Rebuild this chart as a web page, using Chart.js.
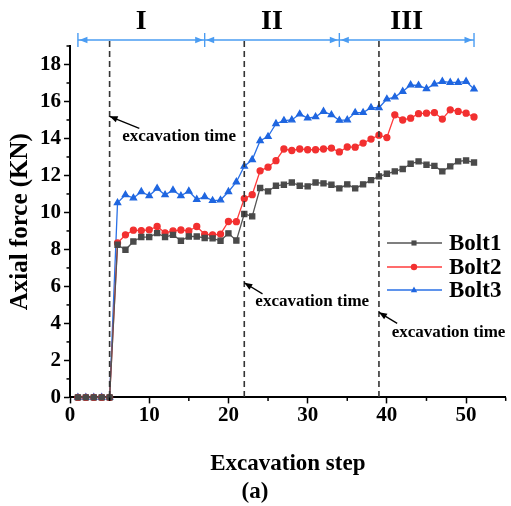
<!DOCTYPE html>
<html><head><meta charset="utf-8">
<script src="https://cdn.jsdelivr.net/npm/chart.js@4/dist/chart.umd.min.js"></script>
<style>html,body{margin:0;padding:0;background:#fff}canvas{display:block}</style>
</head><body>
<canvas id="c" width="511" height="506"></canvas>
<script>
// ---- data ----
const steps = [1,2,3,4,5,6,7,8,9,10,11,12,13,14,15,16,17,18,19,20,21,22,23,24,25,26,27,28,29,30,31,32,33,34,35,36,37,38,39,40,41,42,43,44,45,46,47,48,49,50,51];
const bolt1 = [0,0,0,0,0,8.25,7.98,8.43,8.67,8.67,8.88,8.67,8.79,8.47,8.70,8.70,8.62,8.60,8.47,8.87,8.48,9.92,9.79,11.32,11.14,11.44,11.50,11.62,11.44,11.41,11.62,11.57,11.50,11.30,11.52,11.30,11.52,11.75,11.95,12.09,12.22,12.35,12.63,12.76,12.58,12.52,12.22,12.49,12.76,12.81,12.70];
const bolt2 = [0,0,0,0,0,8.35,8.79,9.04,9.02,9.06,9.24,8.90,9.00,9.05,9.00,9.24,8.82,8.79,8.83,9.51,9.50,10.75,10.96,12.25,12.45,12.80,13.43,13.35,13.43,13.39,13.39,13.43,13.48,13.27,13.54,13.53,13.75,13.97,14.18,14.05,15.28,15.00,15.10,15.34,15.37,15.40,15.05,15.55,15.46,15.37,15.16];
const bolt3 = [0,0,0,0,0,10.52,10.95,10.78,11.12,10.90,11.30,10.95,11.20,10.90,11.15,10.70,10.85,10.64,10.67,11.12,11.65,12.50,12.85,13.88,14.10,14.80,14.97,15.00,15.32,15.10,15.17,15.46,15.28,14.98,15.00,15.40,15.40,15.67,15.66,16.13,16.24,16.54,16.89,16.87,16.69,16.94,17.08,17.03,17.03,17.08,16.67];
const seriesNames = ['Bolt1','Bolt2','Bolt3'];
const xTickValues = [0,10,20,30,40,50];
const yTickValues = [0,2,4,6,8,10,12,14,16,18];
const stageBounds = [1,17,34,51];
const stageLabels = ['I','II','III'];
const excavationSteps = [5,22,39];
const excavationText = 'excavation time';

const SERIF = "'Liberation Serif','Times New Roman',serif";
const toXY = arr => steps.map((s,i)=>({x:s,y:arr[i]}));

const annot = {
  id:'annot',
  afterDatasetsDraw(chart){
    const ctx = chart.ctx, xs = chart.scales.x, ys = chart.scales.y;
    const ca = chart.chartArea;
    ctx.save();
    // minor ticks
    ctx.strokeStyle='#000'; ctx.lineWidth=1.5;
    for(let v=5; v<=55; v+=10){const px=xs.getPixelForValue(v); ctx.beginPath(); ctx.moveTo(px,ca.bottom); ctx.lineTo(px,ca.bottom+3.5); ctx.stroke();}
    for(let v=1; v<=19; v+=2){const py=ys.getPixelForValue(v); ctx.beginPath(); ctx.moveTo(ca.left,py); ctx.lineTo(ca.left-3.5,py); ctx.stroke();}
    // dashed excavation lines
    ctx.strokeStyle='#333'; ctx.lineWidth=1.6; ctx.setLineDash([6,4]);
    excavationSteps.forEach(s=>{const px=xs.getPixelForValue(s); ctx.beginPath(); ctx.moveTo(px,41); ctx.lineTo(px,ca.bottom); ctx.stroke();});
    ctx.setLineDash([]);
    // stage arrows
    const ay = 40, blue='#4a9cf2';
    ctx.strokeStyle=blue; ctx.fillStyle=blue; ctx.lineWidth=1.4;
    const bx = stageBounds.map(s=>xs.getPixelForValue(s));
    ctx.beginPath(); ctx.moveTo(bx[0],ay); ctx.lineTo(bx[bx.length-1],ay); ctx.stroke();
    bx.forEach(px=>{ctx.beginPath(); ctx.moveTo(px,ay-7); ctx.lineTo(px,ay+7); ctx.stroke();});
    const head=(tipX,dir)=>{ctx.beginPath(); ctx.moveTo(tipX,ay); ctx.lineTo(tipX+dir*8,ay-3.2); ctx.lineTo(tipX+dir*8,ay+3.2); ctx.closePath(); ctx.fill();};
    for(let i=0;i<bx.length-1;i++){head(bx[i]+1.5,1); head(bx[i+1]-1.5,-1);}
    // roman numerals
    ctx.fillStyle='#000'; ctx.font='bold 28px '+SERIF; ctx.textAlign='center'; ctx.textBaseline='middle';
    stageLabels.forEach((t,i)=>{const px=(bx[i]+bx[i+1])/2; ctx.fillText(t,px,22);});
    // excavation time labels with arrows: [tipStep,tipVal,tailStep,tailVal,textStep,textVal]
    const labs=[[5,15.2,8.75,14.55,6.6,14.1],[22,6.2,24.3,5.6,23.4,5.2],[39,4.6,41.3,4.0,40.6,3.5]];
    ctx.font='bold 17px '+SERIF; ctx.textAlign='left';
    labs.forEach(l=>{
      const tx=xs.getPixelForValue(l[0]), ty=ys.getPixelForValue(l[1]);
      const sx=xs.getPixelForValue(l[2]), sy=ys.getPixelForValue(l[3]);
      ctx.strokeStyle='#000'; ctx.fillStyle='#000'; ctx.lineWidth=1.3;
      ctx.beginPath(); ctx.moveTo(sx,sy); ctx.lineTo(tx,ty); ctx.stroke();
      const ang=Math.atan2(sy-ty,sx-tx), L=8, W=3.2;
      ctx.beginPath(); ctx.moveTo(tx,ty);
      ctx.lineTo(tx+L*Math.cos(ang)-W*Math.sin(ang), ty+L*Math.sin(ang)+W*Math.cos(ang));
      ctx.lineTo(tx+L*Math.cos(ang)+W*Math.sin(ang), ty+L*Math.sin(ang)-W*Math.cos(ang));
      ctx.closePath(); ctx.fill();
      ctx.fillText(excavationText, xs.getPixelForValue(l[4]), ys.getPixelForValue(l[5]));
    });
    // legend
    const rows=[243,267,290];
    chart.data.datasets.forEach((ds,i)=>{
      const y=rows[i];
      ctx.strokeStyle=ds.borderColor; ctx.lineWidth=1.5;
      ctx.beginPath(); ctx.moveTo(387,y); ctx.lineTo(442,y); ctx.stroke();
      ctx.fillStyle=ds.pointBackgroundColor;
      const r=3.2, cx=414;
      ctx.beginPath();
      if(ds.pointStyle==='rect'){ctx.rect(cx-r*0.8,y-r*0.8,r*1.6,r*1.6);}
      else if(ds.pointStyle==='triangle'){ctx.moveTo(cx,y-r*1.1);ctx.lineTo(cx+r,y+r*0.7);ctx.lineTo(cx-r,y+r*0.7);ctx.closePath();}
      else {ctx.arc(cx,y,r,0,Math.PI*2);}
      ctx.fill();
      ctx.fillStyle='#000'; ctx.font='bold 23px '+SERIF; ctx.textAlign='left'; ctx.textBaseline='middle';
      ctx.fillText(ds.label,449,y+1);
    });
    ctx.restore();
  }
};

new Chart(document.getElementById('c'),{
  type:'line',
  data:{datasets:[
    {label:seriesNames[0],data:toXY(bolt1),borderColor:'#555555',backgroundColor:'#555555',pointBackgroundColor:'#4a4a4a',pointBorderColor:'#4a4a4a',pointStyle:'rect',pointRadius:3.6,borderWidth:1.3,clip:false},
    {label:seriesNames[1],data:toXY(bolt2),borderColor:'#ff3b3b',backgroundColor:'#ff3b3b',pointBackgroundColor:'#f23030',pointBorderColor:'#f23030',pointStyle:'circle',pointRadius:3,borderWidth:1.3,clip:false},
    {label:seriesNames[2],data:toXY(bolt3),borderColor:'#2a70e6',backgroundColor:'#2a70e6',pointBackgroundColor:'#1f66e0',pointBorderColor:'#1f66e0',pointStyle:'triangle',pointRadius:3.6,borderWidth:1.3,clip:false}
  ]},
  options:{
    responsive:false, animation:false, devicePixelRatio:1,
    layout:{padding:{left:0,right:1,top:46,bottom:0}},
    plugins:{
      legend:{display:false}, tooltip:{enabled:false},
      title:{display:true,position:'bottom',text:'(a)',color:'#000',font:{family:SERIF,size:23,weight:'bold',lineHeight:1.2},padding:{top:0,bottom:0}}
    },
    scales:{
      x:{type:'linear',min:0,max:55,
        afterBuildTicks:s=>{s.ticks=xTickValues.map(v=>({value:v}));},
        afterFit:s=>{s.height=81;},
        border:{display:true,color:'#000',width:2},
        grid:{display:true,drawOnChartArea:false,drawTicks:true,tickLength:6,color:'#000',tickWidth:1.5},
        ticks:{color:'#000',font:{family:SERIF,size:21,weight:'bold'},padding:0,maxRotation:0},
        title:{display:true,text:'Excavation step',color:'#000',font:{family:SERIF,size:23,weight:'bold',lineHeight:1.2},padding:{top:0,bottom:1}}
      },
      y:{type:'linear',min:0,max:19,
        afterBuildTicks:s=>{s.ticks=yTickValues.map(v=>({value:v}));},
        afterFit:s=>{s.width=70;},
        border:{display:true,color:'#000',width:2},
        grid:{display:true,drawOnChartArea:false,drawTicks:true,tickLength:6,color:'#000',tickWidth:1.5},
        ticks:{color:'#000',font:{family:SERIF,size:21,weight:'bold'},padding:3},
        title:{display:true,text:'Axial force (KN)',color:'#000',font:{family:SERIF,size:25,weight:'bold',lineHeight:1.2},padding:{top:6,bottom:0}}
      }
    }
  },
  plugins:[annot]
});
</script>
</body></html>
